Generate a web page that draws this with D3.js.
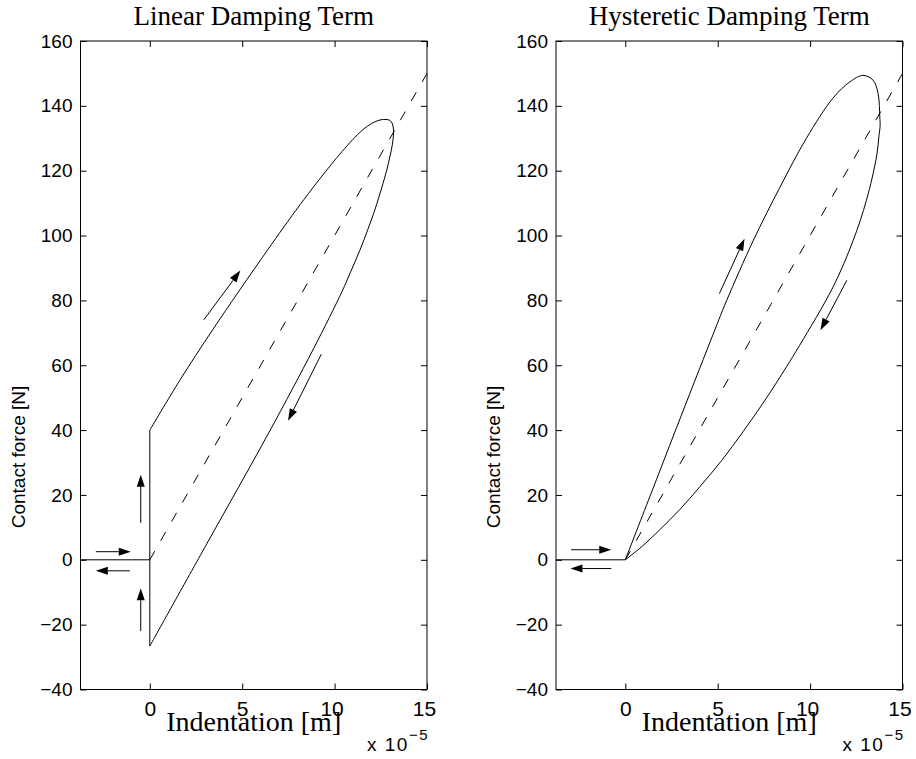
<!DOCTYPE html>
<html>
<head>
<meta charset="utf-8">
<script src="https://cdn.jsdelivr.net/npm/d3@7"></script>
<style>
  body { margin: 0; background: #fff; }
  text { fill: #000; }
</style>
</head>
<body>
<svg id="chart" width="916" height="759"></svg>
<script>
'use strict';

// axis ranges and ticks (x is in units of 1e-5 m)
var xDomain = [-3.75, 15];
var yDomain = [-40, 160];
var xTicks = [0, 5, 10, 15];
var yTicks = [-40, -20, 0, 20, 40, 60, 80, 100, 120, 140, 160];
var titles = ['Linear Damping Term', 'Hysteretic Damping Term'];

// pieces shared by both panels
var approachLine = [[-3.75, 0], [0, 0]];
var springLine = [[0, 0], [15, 150]];

// linear damping: jump at contact, loading and unloading branches
var linearJump = [[0, -26.6], [0, 40]];
var linearLoading = [[0, 40], [1.63, 55.4], [3.42, 71.1], [6.33, 95.2], [8.13, 109.5],
  [9.93, 122.7], [11.1, 130.3], [11.65, 133.2], [12.19, 135.1], [12.51, 135.7], [12.78, 135.8],
  [13.0, 135.5], [13.13, 134.4], [13.19, 132.5]];
var linearUnloading = [[13.19, 132.5], [13.18, 130.7], [13.13, 128.2], [13.05, 125.8],
  [12.94, 123], [12.81, 119.9], [12.62, 116.1], [12.4, 111.9], [12.13, 107.1], [11.8, 101.9],
  [11.37, 95.5], [10.83, 88.3], [10.4, 82.7], [8.85, 65], [6.45, 39.3], [3.08, 4.9], [0, -26.6]];
// arrows: [x0, f0, x1, f1], tip at the second point
var linearArrows = [[2.92, 74, 4.9, 89.2], [9.28, 63.4, 7.48, 42.9],
  [-2.92, 2.5, -1.03, 2.5], [-1.08, -3.4, -2.92, -3.4],
  [-0.49, 11.4, -0.49, 26.2], [-0.49, -22, -0.49, -8.8]];

// hysteretic damping: closed loop starting and ending at the origin
var hystLoading = [[0, 0], [1.33, 19.5], [2.77, 40.7], [4.63, 67.8], [5.48, 79.9], [6.92, 98.4],
  [8.36, 114.8], [9.81, 130.1], [11.24, 142.4], [12.15, 147.4], [12.87, 149.4], [13.41, 147.9],
  [13.68, 143.8], [13.77, 136.6], [13.79, 134]];
var hystUnloading = [[13.79, 134], [13.73, 130.9], [13.59, 124.2], [13.05, 110.9], [12.33, 98.5],
  [11.24, 84.1], [9.44, 66.2], [8.72, 59.5], [7.64, 49.9], [6.37, 39.5], [5.21, 30.6],
  [4.03, 22.5], [2.95, 15.5], [1.87, 9.3], [0.88, 4], [0, 0]];
var hystArrows = [[5.09, 82.1, 6.45, 99], [11.99, 86.2, 10.56, 70.8],
  [-2.93, 3.1, -0.76, 3.1], [-0.76, -2.7, -2.97, -2.7]];

var svg = d3.select('#chart');

var panels = [
  {left: 80.5, title: titles[0], jump: linearJump, loading: linearLoading,
    unloading: linearUnloading, arrows: linearArrows},
  {left: 556, title: titles[1], jump: null, loading: hystLoading,
    unloading: hystUnloading, arrows: hystArrows}
];

var m_width = 346.5,
    m_top = 41,
    m_bottom = 689.5,
    m_tick = 6,
    m_sans = 'Liberation Sans, Arial, Helvetica, sans-serif',
    m_serif = 'Liberation Serif, Times New Roman, serif';

/**
 * Draw an arrow with a filled head in pixel space.
 */
function put_arrow(g, x, y, a) {
  var x0 = x(a[0]), y0 = y(a[1]), x1 = x(a[2]), y1 = y(a[3]);
  var ang = Math.atan2(y1 - y0, x1 - x0),
      len = 12, half = 4;
  var bx = x1 - len * Math.cos(ang), by = y1 - len * Math.sin(ang);
  var px = -Math.sin(ang) * half, py = Math.cos(ang) * half;
  g.append('line')
    .attr('x1', x0).attr('y1', y0)
    .attr('x2', bx).attr('y2', by)
    .attr('stroke', '#000').attr('stroke-width', 1);
  g.append('path')
    .attr('d', 'M' + x1 + ',' + y1 + 'L' + (bx + px) + ',' + (by + py) +
      'L' + (bx - px) + ',' + (by - py) + 'Z')
    .attr('fill', '#000');
}

function drawPanel(p) {
  var x = d3.scaleLinear().domain(xDomain).range([p.left, p.left + m_width]);
  var y = d3.scaleLinear().domain(yDomain).range([m_bottom, m_top]);
  var g = svg.append('g');

  var straight = d3.line().x(function (d) { return x(d[0]); }).y(function (d) { return y(d[1]); });
  var smooth = d3.line().x(function (d) { return x(d[0]); }).y(function (d) { return y(d[1]); })
    .curve(d3.curveCatmullRom.alpha(0.5));

  // spring-only reference line
  g.append('path').attr('d', straight(springLine))
    .attr('fill', 'none').attr('stroke', '#000').attr('stroke-width', 1)
    .attr('stroke-dasharray', '10,12');

  g.append('path').attr('d', straight(approachLine))
    .attr('fill', 'none').attr('stroke', '#000').attr('stroke-width', 1);
  if (p.jump) {
    g.append('path').attr('d', straight(p.jump))
      .attr('fill', 'none').attr('stroke', '#000').attr('stroke-width', 1);
  }
  // loading and unloading drawn as one continuous loop
  g.append('path').attr('d', smooth(p.loading.concat(p.unloading.slice(1))))
    .attr('fill', 'none').attr('stroke', '#000').attr('stroke-width', 1);

  p.arrows.forEach(function (a) { put_arrow(g, x, y, a); });

  // axes, ticks pointing inward on all four sides
  var fmt = d3.format('d');
  var bottom = g.append('g').attr('transform', 'translate(0,' + m_bottom + ')')
    .call(d3.axisBottom(x).tickValues(xTicks).tickSize(-m_tick).tickPadding(13).tickFormat(fmt));
  var left = g.append('g').attr('transform', 'translate(' + p.left + ',0)')
    .call(d3.axisLeft(y).tickValues(yTicks).tickSize(-m_tick).tickPadding(8).tickFormat(fmt));
  var top = g.append('g').attr('transform', 'translate(0,' + m_top + ')')
    .call(d3.axisTop(x).tickValues(xTicks).tickSize(-m_tick).tickFormat(''));
  var right = g.append('g').attr('transform', 'translate(' + (p.left + m_width) + ',0)')
    .call(d3.axisRight(y).tickValues(yTicks).tickSize(-m_tick).tickFormat(''));

  [bottom, left, top, right].forEach(function (a) {
    a.select('.domain').remove();
    a.selectAll('.tick line').attr('stroke', '#000');
    a.selectAll('text').attr('font-family', m_sans).attr('font-size', 19).attr('fill', '#000');
  });
  // x tick labels are a little wider in the original
  bottom.selectAll('text')
    .attr('font-size', 21)
    .attr('dy', '0.66em')
    .attr('dx', function (d) { return String(d).length === 1 ? 0 : -3; });

  g.append('rect')
    .attr('x', p.left).attr('y', m_top)
    .attr('width', m_width).attr('height', m_bottom - m_top)
    .attr('fill', 'none').attr('stroke', '#000').attr('stroke-width', 1);

  var cx = p.left + m_width / 2;
  g.append('text')
    .attr('x', cx).attr('y', 25)
    .attr('text-anchor', 'middle')
    .attr('font-family', m_serif).attr('font-size', 27)
    .text(p.title);

  g.append('text')
    .attr('x', cx).attr('y', 731)
    .attr('text-anchor', 'middle')
    .attr('font-family', m_serif).attr('font-size', 28)
    .text('Indentation [m]');

  g.append('text')
    .attr('transform', 'translate(' + (p.left - 56) + ',457) rotate(-90)')
    .attr('text-anchor', 'middle')
    .attr('font-family', m_sans).attr('font-size', 19)
    .text('Contact force [N]');

  // exponent label
  var ex = g.append('text')
    .attr('x', p.left + m_width - 60).attr('y', 751)
    .attr('font-family', m_sans).attr('font-size', 19)
    .attr('letter-spacing', 1.5);
  ex.append('tspan').text('x 10');
  ex.append('tspan').attr('dy', -11).attr('font-size', 15).text('\u22125');
}

panels.forEach(drawPanel);
</script>
</body>
</html>
